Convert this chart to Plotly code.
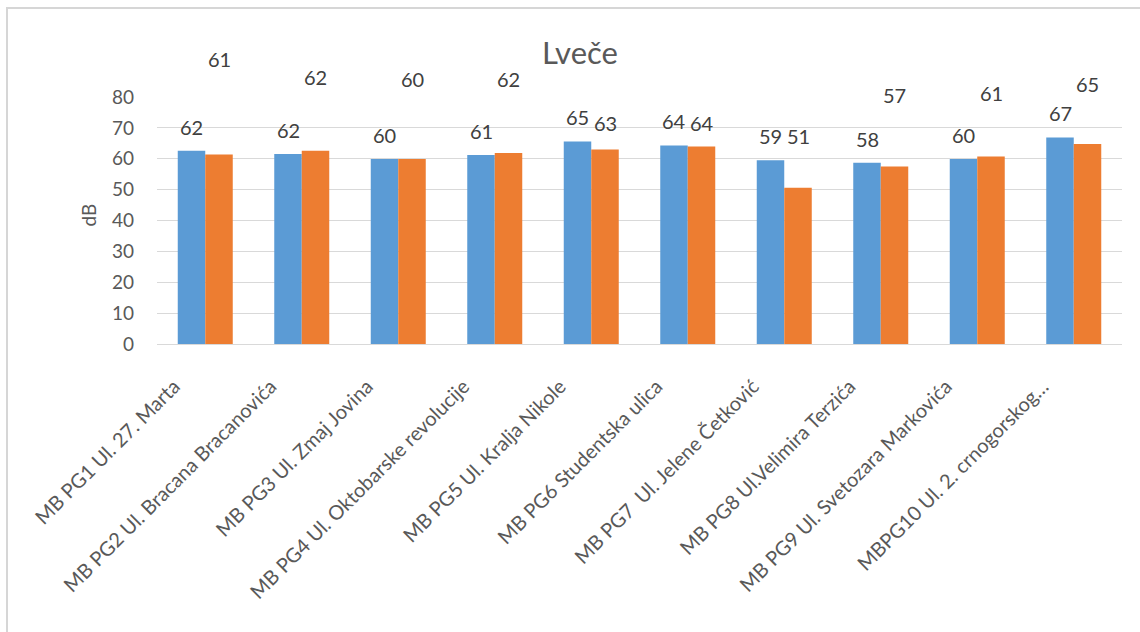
import plotly.graph_objects as go

categories = [
    "MB PG1 Ul. 27. Marta",
    "MB PG2 Ul. Bracana Bracanovića",
    "MB PG3 Ul. Zmaj Jovina",
    "MB PG4 Ul. Oktobarske revolucije",
    "MB PG5 Ul. Kralja Nikole",
    "MB PG6 Studentska ulica",
    "MB PG7 \u00a0Ul. Jelene Četković",
    "MB PG8 Ul.Velimira Terzića",
    "MB PG9 Ul. Svetozara Markovića",
    "MBPG10 Ul. 2. crnogorskog…",
]
series1 = [62.6, 61.5, 59.9, 61.2, 65.6, 64.3, 59.5, 58.7, 59.9, 66.9]
series2 = [61.4, 62.6, 59.9, 61.9, 63.0, 64.0, 50.6, 57.5, 60.7, 64.8]
labels1 = ["62", "62", "60", "61", "65", "64", "59", "58", "60", "67"]
labels2 = ["61", "62", "60", "62", "63", "64", "51", "57", "61", "65"]
y_ticks = [0, 10, 20, 30, 40, 50, 60, 70, 80]

# label offsets (pixels above bar top) as placed in the original
shift1 = [24] * 10
shift2 = [95, 74, 80, 74, 26, 23, 52, 71, 64, 60]

BLUE = "#5B9BD5"
ORANGE = "#ED7D31"
TXT = "#595959"
FONT = "Lato"

fig = go.Figure()
fig.add_trace(go.Bar(x=categories, y=series1, marker=dict(color=BLUE, line=dict(width=0)), name="s1"))
fig.add_trace(go.Bar(x=categories, y=series2, marker=dict(color=ORANGE, line=dict(width=0)), name="s2"))

annotations = []
for c, v, t, s in zip(categories, series1, labels1, shift1):
    annotations.append(dict(x=c, y=v, xref="x", yref="y", text=t, showarrow=False,
                            xshift=-13.75, yshift=s, yanchor="middle",
                            font=dict(family=FONT, size=20, color="#404040")))
for c, v, t, s in zip(categories, series2, labels2, shift2):
    annotations.append(dict(x=c, y=v, xref="x", yref="y", text=t, showarrow=False,
                            xshift=13.75, yshift=s, yanchor="middle",
                            font=dict(family=FONT, size=20, color="#404040")))
annotations.append(dict(x=-0.085, y=0.522, xref="paper", yref="paper", text="dB", showarrow=False,
                        textangle=-90, font=dict(family=FONT, size=19, color=TXT)))
annotations.append(dict(x=(580 - 157) / 965, y=(344 - 52) / 247, xref="paper", yref="paper",
                        text="Lveče", showarrow=False, yanchor="middle",
                        font=dict(family=FONT, size=31, color=TXT)))

fig.update_layout(
    width=1140, height=632,
    margin=dict(l=157, r=18, t=97, b=288, autoexpand=False),
    paper_bgcolor="white", plot_bgcolor="white",
    barmode="group", bargap=0.43, bargroupgap=0,
    showlegend=False,
    annotations=annotations,
    shapes=[dict(type="rect", xref="paper", yref="paper",
                 x0=(7 - 157) / 965, x1=(1150 - 157) / 965,
                 y0=(344 - 650) / 247, y1=(344 - 8) / 247,
                 line=dict(color="#D6D6D6", width=2), fillcolor="rgba(0,0,0,0)", layer="below")],
    xaxis=dict(tickangle=-45, tickfont=dict(family=FONT, size=20, color=TXT),
               showgrid=False, showline=True, linecolor="#D9D9D9", linewidth=1,
               ticks="", ticklabelstandoff=22, ticklabelshift=-31),
    yaxis=dict(range=[0, 80], tickvals=y_ticks, tickfont=dict(family=FONT, size=19, color=TXT),
               showgrid=True, gridcolor="#D9D9D9", gridwidth=1, zeroline=False,
               showline=False, ticks="", ticklabelstandoff=22),
)

fig.write_html("out.html", config={"displayModeBar": False},
               post_script="document.body.style.margin='0';document.body.style.padding='0';")
